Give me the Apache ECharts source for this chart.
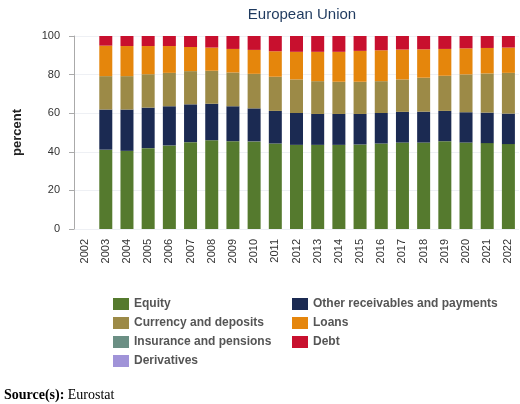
<!DOCTYPE html>
<html><head><meta charset="utf-8">
<script src="https://cdn.jsdelivr.net/npm/echarts@6/dist/echarts.min.js"></script>
<style>body{margin:0}#c{width:520px;height:404px}</style>
</head><body><div id="c"></div>
<script>
const years = ['2002','2003','2004','2005','2006','2007','2008','2009','2010','2011','2012','2013','2014','2015','2016','2017','2018','2019','2020','2021','2022'];
const equity = [null,41.1,40.5,41.9,43.3,45.0,46.0,45.5,45.4,44.3,43.6,43.6,43.6,43.8,44.3,44.8,44.8,45.5,44.8,44.5,44.0];
const otherRec = [null,20.8,21.4,21.0,20.3,19.6,18.9,18.1,17.1,16.9,16.5,16.0,16.0,15.8,15.8,15.9,16.0,15.7,15.7,15.8,15.8];
const currency = [null,17.3,17.3,17.3,17.3,17.2,17.1,17.5,17.9,17.7,17.4,17.0,16.7,16.7,16.5,16.8,17.6,18.2,19.6,20.3,21.1];
const insurance = [null,0,0,0,0,0,0,0,0,0,0,0,0,0,0,0,0,0,0,0,0];
const derivatives = [null,0,0,0,0,0,0,0,0,0,0,0,0,0,0,0,0,0,0,0,0];
const loans = [null,15.8,15.6,14.6,13.9,12.5,12.0,12.2,12.4,13.2,14.3,15.2,15.5,16.0,16.0,15.5,14.7,13.9,13.5,13.2,13.1];
const debt = [null,5.0,5.2,5.2,5.2,5.7,6.0,6.7,7.2,7.9,8.2,8.2,8.2,7.7,7.4,7.0,6.9,6.7,6.4,6.2,6.0];

const chart = echarts.init(document.getElementById('c'));
const mk = (name, data, color) => ({name, type:'bar', stack:'a', data, barWidth:13, itemStyle:{color}});
const legendText = {fontFamily:'Arial', fontSize:12, color:'#555', fontWeight:'bold'};
chart.setOption({
  animation:false,
  textStyle:{fontFamily:'Arial'},
  title:{text:'European Union', left:297, top:2, textAlign:'center', textStyle:{fontSize:15, fontWeight:'normal', color:'#1f3a5f'}},
  grid:{left:74, right:1, top:36, bottom:175},
  xAxis:{type:'category', data:years, axisLabel:{rotate:90, fontSize:11, color:'#333', interval:0, margin:10},
    axisTick:{show:false}, axisLine:{show:false}},
  yAxis:{type:'value', min:0, max:100, interval:20, name:'percent', nameLocation:'middle', nameGap:50,
    nameTextStyle:{fontSize:13, fontWeight:'bold', color:'#222'},
    axisLabel:{fontSize:11, color:'#333', margin:14}, axisLine:{show:true, lineStyle:{color:'#aaa'}},
    axisTick:{show:true, lineStyle:{color:'#aaa'}}, splitLine:{lineStyle:{color:'#eef0f4'}}},
  legend:[
    {orient:'vertical', left:108, top:293, itemGap:7, itemWidth:16, itemHeight:12, icon:'rect', textStyle:legendText,
     data:['Equity','Currency and deposits','Insurance and pensions','Derivatives']},
    {orient:'vertical', left:287, top:293, itemGap:7, itemWidth:16, itemHeight:12, icon:'rect', textStyle:legendText,
     data:['Other receivables and payments','Loans','Debt']}
  ],
  graphic:[{type:'text', left:4, top:388, style:{rich:{b:{fontWeight:'bold', fontFamily:'Liberation Serif', fontSize:14}, n:{fontFamily:'Liberation Serif', fontSize:14}}, text:'{b|Source(s):} {n|Eurostat}'}}],
  series:[
    mk('Equity', equity, '#557a2e'),
    mk('Other receivables and payments', otherRec, '#1b2a52'),
    mk('Currency and deposits', currency, '#9c8a47'),
    mk('Insurance and pensions', insurance, '#6b8f84'),
    mk('Derivatives', derivatives, '#a093d8'),
    mk('Loans', loans, '#e5860c'),
    mk('Debt', debt, '#c8102e')
  ]
});
</script></body></html>
